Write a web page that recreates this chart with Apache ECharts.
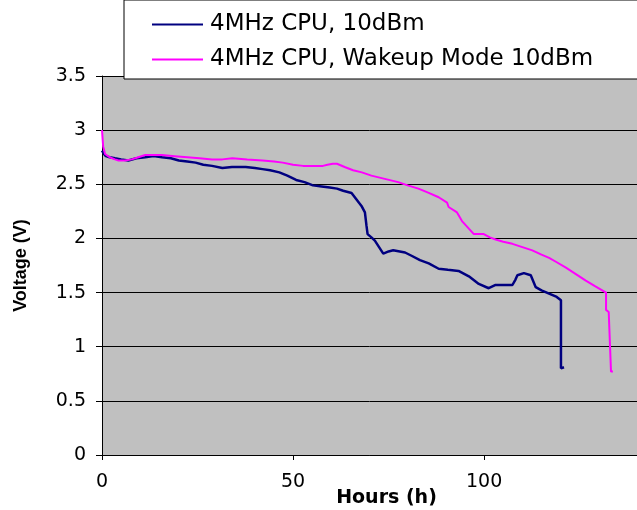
<!DOCTYPE html>
<html>
<head>
<meta charset="utf-8">
<title>Voltage vs Hours</title>
<script src="https://cdn.jsdelivr.net/npm/echarts@6/dist/echarts.min.js"></script>
<style>
  html, body { margin: 0; padding: 0; background: #fff; }
  #main { width: 637px; height: 510px; }
</style>
</head>
<body>
<div id="main"></div>
<script>
// series names
var seriesNames = ['4MHz CPU, 10dBm', '4MHz CPU, Wakeup Mode 10dBm']

// 4MHz CPU, 10dBm : [hours, volts]
var cpu10dBm = [
  [0, 2.81], [0.5, 2.78], [1, 2.76], [2, 2.75], [3.4, 2.74], [5, 2.73], [6.9, 2.72],
  [9, 2.74], [11.3, 2.75], [13.5, 2.76], [15.7, 2.75], [18, 2.74], [20.1, 2.72],
  [22.3, 2.71], [24.5, 2.70], [26.5, 2.68], [28.8, 2.67], [31.5, 2.65], [34, 2.66],
  [37.6, 2.66], [40, 2.65], [42, 2.64], [44, 2.63], [46.4, 2.61], [48.5, 2.58],
  [50.8, 2.54], [53, 2.52], [55.2, 2.49], [57.5, 2.48], [59.6, 2.47], [61.5, 2.46],
  [63.1, 2.44], [65.3, 2.42], [66.6, 2.36], [67.9, 2.30], [68.8, 2.24], [69.2, 2.12],
  [69.5, 2.04], [70.5, 2.01], [71.4, 1.98], [72.5, 1.92], [73.6, 1.86], [75, 1.88],
  [76.2, 1.89], [79.3, 1.87], [81, 1.84], [83.2, 1.80], [85.5, 1.77], [88.1, 1.72],
  [90.5, 1.71], [93.3, 1.70], [96, 1.65], [98.6, 1.58], [101.2, 1.54], [103, 1.57],
  [105, 1.57], [107.4, 1.57], [108.2, 1.62], [108.7, 1.66], [110.4, 1.68], [112.2, 1.66],
  [113.5, 1.55], [115, 1.52], [117, 1.49], [119, 1.46], [120.1, 1.43], [120.1, 0.80],
  [120.9, 0.81]
]

// 4MHz CPU, Wakeup Mode 10dBm : [hours, volts]
var cpuWakeup = [
  [0, 3.0], [0.3, 2.85], [0.8, 2.78], [2, 2.75], [3.4, 2.73], [4.3, 2.72], [6, 2.72],
  [7.8, 2.73], [9.5, 2.75], [11.3, 2.77], [13.5, 2.77], [15.7, 2.77], [19, 2.76],
  [22.3, 2.75], [25.5, 2.74], [28.8, 2.73], [31.5, 2.73], [34.1, 2.74], [38, 2.73],
  [42, 2.72], [45, 2.71], [47.3, 2.70], [50, 2.68], [52.6, 2.67], [55, 2.67],
  [57.8, 2.67], [59, 2.68], [60.4, 2.69], [61.5, 2.69], [63.5, 2.66], [65.7, 2.63],
  [68, 2.61], [70.5, 2.58], [74, 2.55], [77.5, 2.52], [80, 2.49], [82.8, 2.46],
  [85.5, 2.42], [88.1, 2.38], [90.3, 2.33], [90.7, 2.29], [92.9, 2.24], [94.2, 2.16],
  [96, 2.09], [97.3, 2.04], [99.9, 2.04], [101.5, 2.01], [103, 1.99], [105, 1.97],
  [107.4, 1.95], [110, 1.92], [112.6, 1.89], [115, 1.85], [117, 1.82], [119, 1.78],
  [121.4, 1.73], [124, 1.67], [126.6, 1.61], [129, 1.56], [131.9, 1.50], [131.9, 1.34],
  [132.6, 1.32], [133.2, 0.77], [133.7, 0.77]
]

var myChart = echarts.init(document.getElementById('main'))

var tickFont = 'DejaVu Sans'

var option = {
  animation: false,
  backgroundColor: '#fff',
  legend: {
    orient: 'vertical',
    left: 124,
    top: 0,
    padding: [13, 80, 8, 28],
    backgroundColor: '#fff',
    borderColor: '#000',
    borderWidth: 1,
    borderRadius: 0,
    icon: 'rect',
    itemWidth: 51,
    itemHeight: 2,
    itemGap: 12,
    z: 10,
    textStyle: {
      fontFamily: tickFont,
      fontSize: 23,
      lineHeight: 22,
      color: '#000',
      padding: [0, 0, 0, 2]
    },
    data: seriesNames
  },
  grid: {
    left: 102,
    right: 0,
    top: 76,
    bottom: 55,
    outerBoundsMode: 'none',
    containLabel: false,
    show: true,
    backgroundColor: '#c0c0c0',
    borderWidth: 0
  },
  xAxis: {
    type: 'value',
    min: 0,
    max: 140,
    interval: 50,
    name: 'Hours (h)',
    nameLocation: 'middle',
    nameMoveOverlap: false,
    nameGap: 34,
    nameTextStyle: {
      fontFamily: tickFont,
      fontWeight: 'bold',
      fontSize: 19,
      color: '#000',
      padding: [0, 0, 0, 34]
    },
    axisLine: { lineStyle: { color: '#000', width: 1 } },
    axisTick: { inside: false, length: 5, lineStyle: { color: '#000' } },
    axisLabel: {
      margin: 18,
      fontFamily: tickFont,
      fontSize: 19,
      color: '#000',
      showMaxLabel: false
    },
    splitLine: { show: false }
  },
  yAxis: {
    type: 'value',
    min: 0,
    max: 3.5,
    interval: 0.5,
    name: 'Voltage (V)',
    nameLocation: 'middle',
    nameGap: 72,
    nameTextStyle: {
      fontFamily: 'Liberation Sans',
      fontWeight: 'bold',
      fontSize: 18,
      color: '#000'
    },
    axisLine: { show: true, lineStyle: { color: '#000', width: 1 } },
    axisTick: { show: true, inside: false, length: 6, lineStyle: { color: '#000' } },
    axisLabel: {
      margin: 16,
      fontFamily: tickFont,
      fontSize: 19,
      color: '#000'
    },
    splitLine: { show: true, lineStyle: { color: '#000', width: 1 } }
  },
  series: [
    {
      name: seriesNames[0],
      type: 'line',
      data: cpu10dBm,
      symbol: 'none',
      color: '#000080',
      lineStyle: { color: '#000080', width: 2.5 }
    },
    {
      name: seriesNames[1],
      type: 'line',
      data: cpuWakeup,
      symbol: 'none',
      color: '#ff00ff',
      lineStyle: { color: '#ff00ff', width: 2 }
    }
  ]
}

myChart.setOption(option)
</script>
</body>
</html>
